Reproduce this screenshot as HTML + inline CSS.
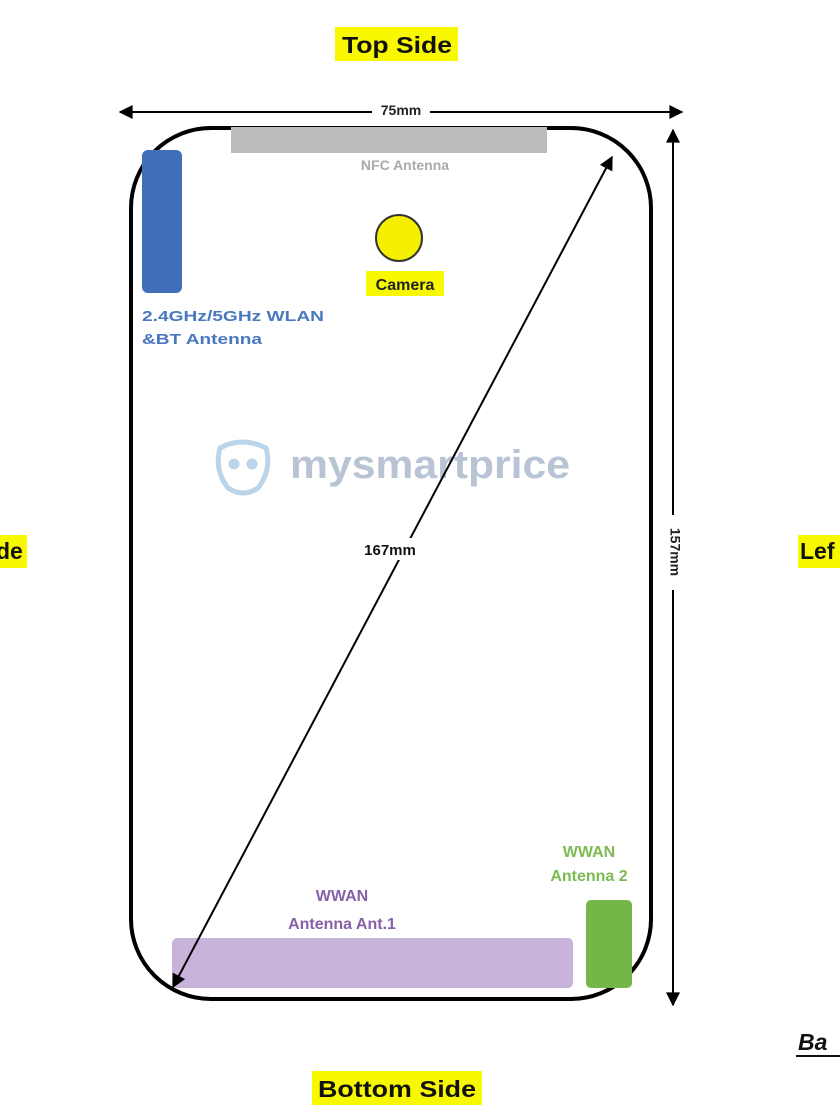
<!DOCTYPE html>
<html><head><meta charset="utf-8"><style>
body{margin:0;background:#fff;}
svg{display:block;font-family:"Liberation Sans",Arial,sans-serif;font-weight:bold;}
</style></head><body>
<svg width="840" height="1120" viewBox="0 0 840 1120" xmlns="http://www.w3.org/2000/svg">
<defs>
<marker id="b" viewBox="0 0 10 10" refX="9" refY="5" markerWidth="16" markerHeight="14" orient="auto-start-reverse" markerUnits="userSpaceOnUse"><path d="M0,0L10,5L0,10z" fill="#000"/></marker>
</defs>
<rect x="0" y="0" width="840" height="1120" fill="#fff"/>
<rect x="335" y="27" width="123" height="34" fill="#f8f800"/>
<text x="397" y="53" font-size="23" text-anchor="middle" fill="#111" textLength="110" lengthAdjust="spacingAndGlyphs">Top Side</text>
<rect x="312" y="1071" width="170" height="34" fill="#f8f800"/>
<text x="397" y="1097" font-size="23" text-anchor="middle" fill="#111" textLength="158" lengthAdjust="spacingAndGlyphs">Bottom Side</text>
<rect x="0" y="535" width="27" height="33" fill="#f8f800"/>
<text x="-4" y="559" font-size="23" fill="#111">de</text>
<rect x="798" y="535" width="42" height="33" fill="#f8f800"/>
<text x="800" y="559" font-size="23" fill="#111">Lef</text>
<text x="798" y="1050" font-size="23" font-style="italic" fill="#111">Ba</text>
<line x1="796" y1="1056" x2="840" y2="1056" stroke="#111" stroke-width="2"/>
<line x1="120" y1="112" x2="682" y2="112" stroke="#000" stroke-width="2" marker-start="url(#b)" marker-end="url(#b)"/>
<rect x="372" y="102" width="58" height="12" fill="#fff"/>
<text x="401" y="115" font-size="14" text-anchor="middle" fill="#222">75mm</text>
<line x1="673" y1="130" x2="673" y2="1005" stroke="#000" stroke-width="2" marker-start="url(#b)" marker-end="url(#b)"/>
<rect x="666" y="515" width="14" height="75" fill="#fff"/>
<text transform="translate(674,552) rotate(90)" font-size="14" text-anchor="middle" dominant-baseline="middle" fill="#222">157mm</text>
<rect x="131" y="128" width="520" height="871" rx="80" ry="80" fill="none" stroke="#000" stroke-width="4"/>
<rect x="231" y="127" width="316" height="26" fill="#bcbcbc"/>
<text x="405" y="170" font-size="14" text-anchor="middle" fill="#aaa">NFC Antenna</text>
<rect x="142" y="150" width="40" height="143" rx="6" fill="#3e6fb8"/>
<text x="142" y="321" font-size="15" fill="#4a78c0" textLength="182" lengthAdjust="spacingAndGlyphs">2.4GHz/5GHz WLAN</text>
<text x="142" y="344" font-size="15" fill="#4a78c0" textLength="120" lengthAdjust="spacingAndGlyphs">&amp;BT Antenna</text>
<circle cx="399" cy="238" r="23" fill="#f5f000" stroke="#333" stroke-width="2"/>
<rect x="366" y="271" width="78" height="25" fill="#f8f800"/>
<text x="405" y="290" font-size="16" text-anchor="middle" fill="#222">Camera</text>
<g opacity="0.35" stroke="#3d86c6" fill="none" stroke-width="5">
<path d="M220,448 Q242,436 266,448 Q272,470 258,488 Q243,498 228,488 Q214,470 220,448z"/>
<circle cx="234" cy="464" r="3" fill="#3d86c6"/><circle cx="252" cy="464" r="3" fill="#3d86c6"/>
</g>
<text x="290" y="478" font-size="40" fill="#b8c4d4" textLength="280" lengthAdjust="spacingAndGlyphs">mysmartprice</text>
<rect x="172" y="938" width="401" height="50" rx="5" fill="#c8b4da"/>
<text x="342" y="901" font-size="16" text-anchor="middle" fill="#8660a8">WWAN</text>
<text x="342" y="929" font-size="16" text-anchor="middle" fill="#8660a8">Antenna Ant.1</text>
<rect x="586" y="900" width="46" height="88" rx="5" fill="#74b748"/>
<text x="589" y="857" font-size="16" text-anchor="middle" fill="#7cba52">WWAN</text>
<text x="589" y="881" font-size="16" text-anchor="middle" fill="#7cba52">Antenna 2</text>
<line x1="612" y1="157" x2="173" y2="987" stroke="#000" stroke-width="2" marker-start="url(#b)" marker-end="url(#b)"/>
<rect x="350" y="538" width="80" height="22" fill="#fff"/>
<text x="390" y="555" font-size="15" text-anchor="middle" fill="#111">167mm</text>
</svg>
</body></html>
